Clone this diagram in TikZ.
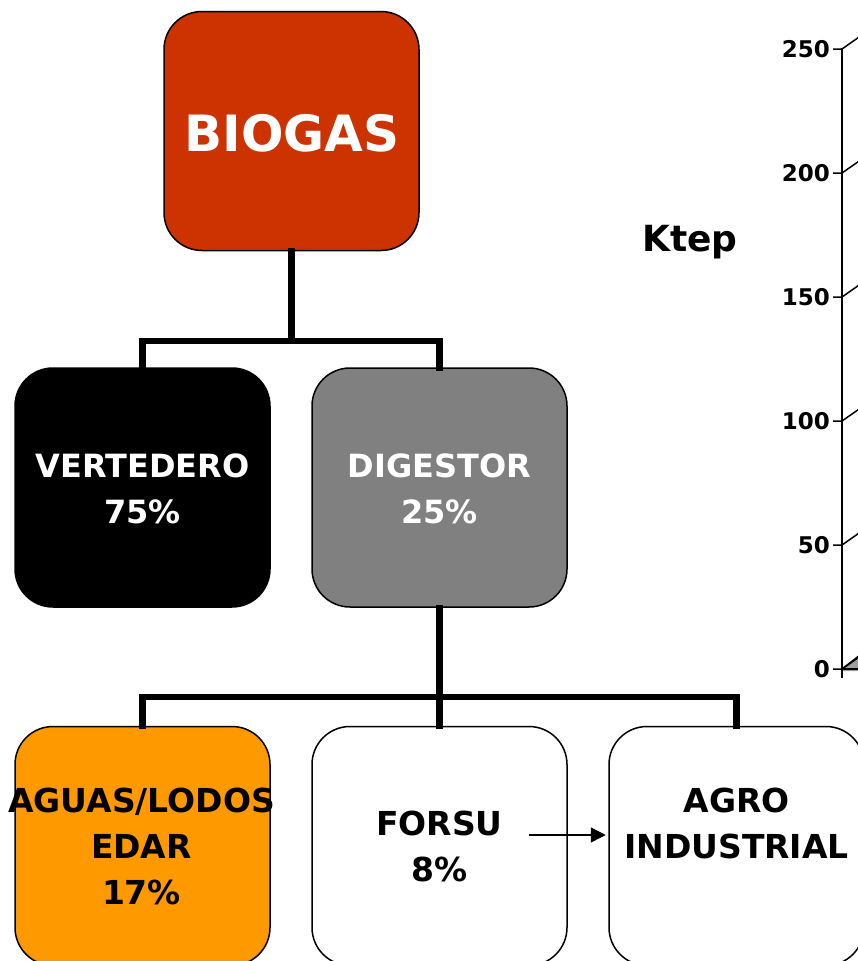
\documentclass[tikz,border=0pt]{standalone}
\usepackage{fontspec}
\setmainfont{DejaVu Sans}
\usetikzlibrary{arrows.meta}
\definecolor{biogasred}{HTML}{CC3300}
\definecolor{edarorange}{HTML}{FF9900}
\definecolor{midgray}{HTML}{808080}
\tikzset{
  box/.style={draw=black, line width=1.5pt, rounded corners=38pt,
    minimum width=255pt, minimum height=239pt, inner sep=0pt},
  boxtext/.style={align=center, inner sep=0pt,
    font=\fontsize{32}{46}\selectfont\bfseries},
  lowtext/.style={align=center, inner sep=0pt,
    font=\fontsize{33}{46}\selectfont\bfseries},
  conn/.style={line width=6.5pt, line join=miter, line cap=rect},
  ticklabel/.style={anchor=east, inner sep=0pt,
    font=\fontsize{23}{26}\selectfont\bfseries},
  tickline/.style={line width=1.5pt},
}
\begin{document}
\begin{tikzpicture}[x=1pt, y=-1pt]
\useasboundingbox (0,0) rectangle (858,961);
\clip (0,0) rectangle (858,961);
\fill[white] (0,0) rectangle (858,961);

% boxes of the tree
\node[box, fill=biogasred] (biogas) at (291.5,131) {};
\node[box, fill=black]     (vert)   at (142.5,487.5) {};
\node[box, fill=midgray]   (dig)    at (439.5,487.5) {};
\node[box, fill=edarorange](aguas)  at (142.5,846) {};
\node[box, fill=white]     (forsu)  at (439.5,846) {};
\node[box, fill=white]     (agro)   at (736.5,846) {};

% labels inside the boxes
\node[inner sep=0pt, text=white, font=\fontsize{50}{58}\selectfont\bfseries]
  (tbiogas) at (292,133) {BIOGAS};
\node[boxtext, text=white] (tvert) at (142.5,489) {VERTEDERO\\75\%};
\node[boxtext, text=white] (tdig)  at (439.5,489) {DIGESTOR\\25\%};
\node[lowtext, text=black] (taguas) at (141.5,846) {AGUAS/LODOS\\EDAR\\17\%};
\node[lowtext, text=black] (tforsu) at (439.5,846) {FORSU\\8\%};
\node[lowtext, text=black] (tagro)  at (736.5,823) {AGRO\\INDUSTRIAL};

% tree connectors
\coordinate (j1) at (291.5,341);
\coordinate (j2) at (439.5,697);
\draw[conn] (biogas.south) -- (j1);
\draw[conn] (vert.north) |- (j1) -| (dig.north);
\draw[conn] (dig.south) -- (j2);
\draw[conn] (aguas.north) |- (j2) -| (agro.north);
\draw[conn] (j2) -- (forsu.north);

% arrow from FORSU to AGRO INDUSTRIAL
\coordinate (a0) at (529,835);
\draw[line width=1.4pt, -{Triangle[length=15pt, width=15pt]}, shorten >=2.5pt]
  (a0) -- (agro.west |- a0);

% value axis of the chart
\node[inner sep=0pt, font=\fontsize{36}{42}\selectfont\bfseries] (ktep) at (690,242) {Ktep};
\fill[gray!75] (842,669) -- (860,655) -- (860,671) -- (842,671) -- cycle;
\draw[tickline] (842,669) -- (860,655);
\draw[tickline] (842,669) -- (860,669);
\draw[line width=2.5pt] (842,48) -- (842,678);
\foreach \v/\yy in {0/669, 50/545, 100/421, 150/297, 200/173, 250/49} {
  \draw[tickline] (833,\yy) -- (842,\yy) -- (862,\yy-14);
  \node[ticklabel] (tick\v) at (830,\yy) {\v};
}
\end{tikzpicture}
\end{document}
